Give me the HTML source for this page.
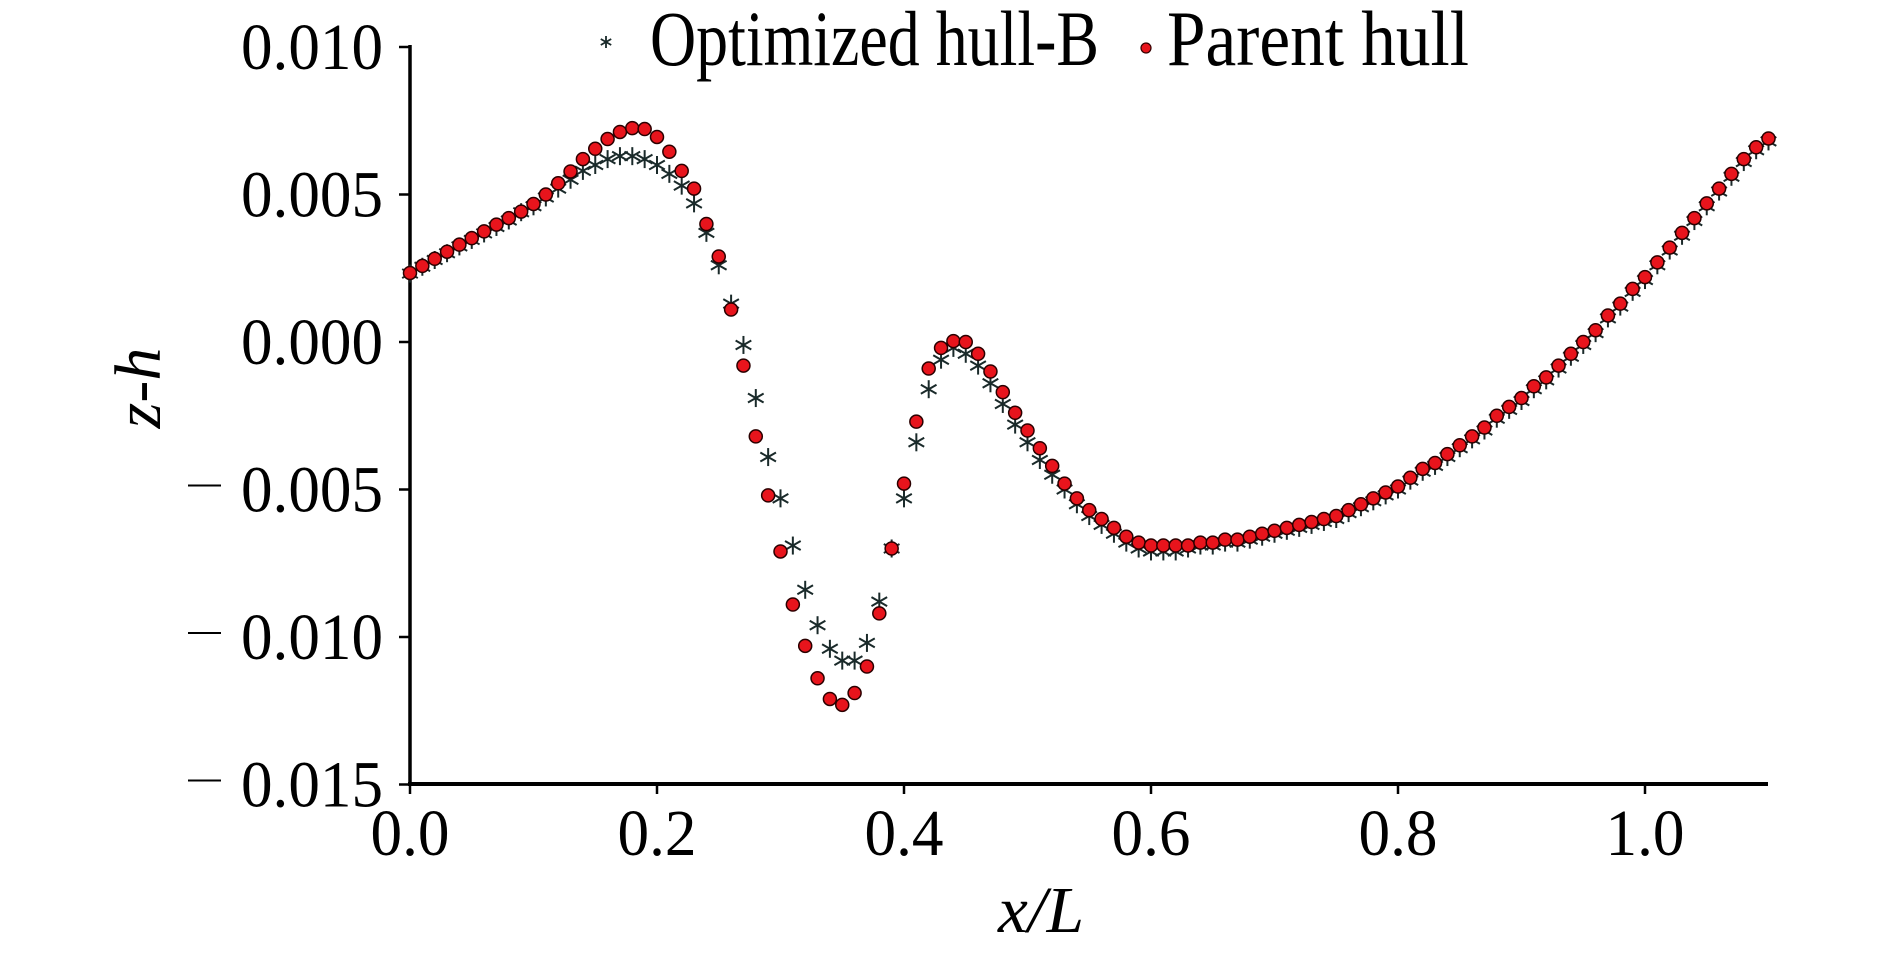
<!DOCTYPE html>
<html><head><meta charset="utf-8"><style>
html,body{margin:0;padding:0;background:#fff;}
svg{display:block;font-family:"Liberation Serif",serif;}
</style></head><body>
<svg id="chart" width="1890" height="954" viewBox="0 0 1890 954" xmlns="http://www.w3.org/2000/svg">
<g id="axes"></g>
<g id="series-opt"></g>
<g id="series-parent"></g>
<g>
  <g>
    <g id="leg-star"></g>
    <text x="650" y="65" font-size="78" textLength="449" lengthAdjust="spacingAndGlyphs">Optimized hull-B</text>
  </g>
  <g>
    <circle cx="1146" cy="48" r="5" fill="#e8141c" stroke="#300" stroke-width="1.2"/>
    <text x="1167" y="65" font-size="78" textLength="302" lengthAdjust="spacingAndGlyphs">Parent hull</text>
  </g>
</g>
<text transform="translate(160,388) rotate(-90)" text-anchor="middle" font-size="66" font-style="italic">z-h</text>
<text x="1041" y="932" text-anchor="middle" font-size="66" font-style="italic" textLength="86" lengthAdjust="spacingAndGlyphs">x/L</text>
</svg>
<script>
const xs = [0.00,0.01,0.02,0.03,0.04,0.05,0.06,0.07,0.08,0.09,0.10,0.11,0.12,0.13,0.14,0.15,0.16,0.17,0.18,0.19,0.20,0.21,0.22,0.23,0.24,0.25,0.26,0.27,0.28,0.29,0.30,0.31,0.32,0.33,0.34,0.35,0.36,0.37,0.38,0.39,0.40,0.41,0.42,0.43,0.44,0.45,0.46,0.47,0.48,0.49,0.50,0.51,0.52,0.53,0.54,0.55,0.56,0.57,0.58,0.59,0.60,0.61,0.62,0.63,0.64,0.65,0.66,0.67,0.68,0.69,0.70,0.71,0.72,0.73,0.74,0.75,0.76,0.77,0.78,0.79,0.80,0.81,0.82,0.83,0.84,0.85,0.86,0.87,0.88,0.89,0.90,0.91,0.92,0.93,0.94,0.95,0.96,0.97,0.98,0.99,1.00,1.01,1.02,1.03,1.04,1.05,1.06,1.07,1.08,1.09,1.10];
const parentHull = [0.00234,0.00258,0.00282,0.00306,0.0033,0.00352,0.00375,0.00398,0.0042,0.00442,0.00468,0.0050,0.00538,0.00578,0.0062,0.00655,0.00688,0.00712,0.00725,0.00722,0.00695,0.00645,0.0058,0.0052,0.0040,0.0029,0.0011,-0.0008,-0.0032,-0.0052,-0.0071,-0.0089,-0.0103,-0.0114,-0.0121,-0.0123,-0.0119,-0.0110,-0.0092,-0.0070,-0.0048,-0.0027,-0.0009,-0.0002,0.00003,0.0,-0.0004,-0.0010,-0.0017,-0.0024,-0.0030,-0.0036,-0.0042,-0.0048,-0.0053,-0.0057,-0.0060,-0.0063,-0.0066,-0.0068,-0.0069,-0.0069,-0.0069,-0.0069,-0.0068,-0.0068,-0.0067,-0.0067,-0.0066,-0.0065,-0.0064,-0.0063,-0.0062,-0.0061,-0.0060,-0.0059,-0.0057,-0.0055,-0.0053,-0.0051,-0.0049,-0.0046,-0.0043,-0.0041,-0.0038,-0.0035,-0.0032,-0.0029,-0.0025,-0.0022,-0.0019,-0.0015,-0.0012,-0.0008,-0.0004,0.0000,0.0004,0.0009,0.0013,0.0018,0.0022,0.0027,0.0032,0.0037,0.0042,0.0047,0.0052,0.0057,0.0062,0.0066,0.0069];
const optimizedHull = [0.00232,0.00255,0.00278,0.00301,0.00324,0.00346,0.00368,0.0039,0.00412,0.0044,0.0046,0.0049,0.0052,0.0055,0.0058,0.0060,0.0062,0.0063,0.0063,0.0062,0.0060,0.0057,0.0053,0.0047,0.0037,0.0026,0.0013,-0.0001,-0.0019,-0.0039,-0.0053,-0.0069,-0.0084,-0.0096,-0.0104,-0.0108,-0.0108,-0.0102,-0.0088,-0.0070,-0.0053,-0.0034,-0.0016,-0.0006,-0.0002,-0.0004,-0.0008,-0.0014,-0.0021,-0.0028,-0.0034,-0.0040,-0.0045,-0.0050,-0.0055,-0.0059,-0.0062,-0.0065,-0.0068,-0.0070,-0.0071,-0.0071,-0.0071,-0.0070,-0.0069,-0.0069,-0.0068,-0.0068,-0.0067,-0.0066,-0.0065,-0.0064,-0.0063,-0.0062,-0.0061,-0.0060,-0.0058,-0.0056,-0.0054,-0.0052,-0.0050,-0.0047,-0.0044,-0.0042,-0.0039,-0.0036,-0.0033,-0.0030,-0.0026,-0.0023,-0.0020,-0.0016,-0.0013,-0.0009,-0.0005,-0.0001,0.0003,0.0008,0.0012,0.0017,0.0021,0.0026,0.0031,0.0036,0.0041,0.0046,0.0051,0.0056,0.0061,0.0065,0.0068];
const xTicks = [0.0,0.2,0.4,0.6,0.8,1.0];
const xTickLabels = ["0.0","0.2","0.4","0.6","0.8","1.0"];
const yTicks = [0.010,0.005,0.000,-0.005,-0.010,-0.015];
const yTickLabels = ["0.010","0.005","0.000","0.005","0.010","0.015"];

const NS = "http://www.w3.org/2000/svg";
function X(u){ return 410 + u*1235; }
function Y(v){ return 342 - v*29500; }
function mk(tag, attrs, parent){
  const e = document.createElementNS(NS, tag);
  for (const k in attrs) e.setAttribute(k, attrs[k]);
  parent.appendChild(e);
  return e;
}
const axes = document.getElementById('axes');
let e;
e = mk('line',{x1:410,y1:45,x2:410,y2:786,stroke:'#000','stroke-width':3.5},axes);


e = mk('line',{x1:408,y1:784,x2:1768,y2:784,stroke:'#000','stroke-width':4},axes);


xTicks.forEach((t,i)=>{
  const tk = mk('line',{x1:X(t),y1:784,x2:X(t),y2:794,stroke:'#000','stroke-width':2.5},axes);
  
  
  const lb = mk('text',{x:X(t),y:855,'text-anchor':'middle','font-size':66,textLength:79,lengthAdjust:'spacingAndGlyphs'},axes);
  lb.textContent = xTickLabels[i];
  
  
});
yTicks.forEach((t,i)=>{
  const y = Y(t);
  const tk = mk('line',{x1:399,y1:y,x2:410,y2:y,stroke:'#000','stroke-width':2.5},axes);
  
  
  const lb = mk('text',{x:383,y:y+22,'text-anchor':'end','font-size':66,textLength:142,lengthAdjust:'spacingAndGlyphs'},axes);
  lb.textContent = yTickLabels[i];
  
  
  if (t < 0) {
    const m = mk('line',{x1:188,y1:y-4,x2:221,y2:y-4,stroke:'#000','stroke-width':2},axes);
    
    
  }
});
function star(g, cx, cy, s, w){
  const grp = mk('g',{stroke:'#1a2a2a','stroke-width':w},g);
  mk('line',{x1:cx,y1:cy-s,x2:cx,y2:cy+s},grp);
  mk('line',{x1:cx-s*0.87,y1:cy-s*0.5,x2:cx+s*0.87,y2:cy+s*0.5},grp);
  mk('line',{x1:cx-s*0.87,y1:cy+s*0.5,x2:cx+s*0.87,y2:cy-s*0.5},grp);
  return grp;
}
const go = document.getElementById('series-opt');
optimizedHull.forEach((v,i)=>{
  const s = star(go, X(xs[i]), Y(v), 9, 2);
  
  
});
const gp = document.getElementById('series-parent');
parentHull.forEach((v,i)=>{
  const c = mk('circle',{cx:X(xs[i]),cy:Y(v),r:6.5,fill:'#e8141c',stroke:'#2a0000','stroke-width':1.5},gp);
  
  
});
const ls = star(document.getElementById('leg-star'), 606, 42, 6, 1.8);


</script>
</body></html>
